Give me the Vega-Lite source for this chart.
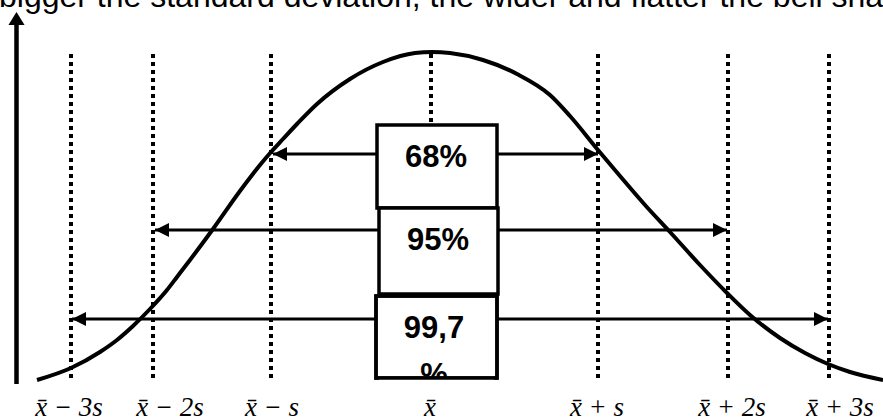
{
  "$schema": "https://vega.github.io/schema/vega-lite/v6.json",
  "width": 883,
  "height": 419,
  "autosize": "none",
  "padding": 0,
  "background": "white",
  "config": {"view": {"stroke": null}},
  "encoding": {
    "x": {"field": "x", "type": "quantitative", "axis": null, "scale": {"domain": [0, 883], "nice": false, "zero": false}},
    "y": {"field": "y", "type": "quantitative", "axis": null, "scale": {"domain": [0, 419], "nice": false, "zero": false, "reverse": true}}
  },
  "layer": [
    {
      "data": {"values": [
        {"x": 37, "y": 380}, {"x": 71, "y": 368}, {"x": 100, "y": 352}, {"x": 117, "y": 340},
        {"x": 133, "y": 326}, {"x": 150, "y": 309}, {"x": 167, "y": 290}, {"x": 177, "y": 277},
        {"x": 190, "y": 260}, {"x": 213, "y": 229}, {"x": 240, "y": 191}, {"x": 260, "y": 165},
        {"x": 271, "y": 152}, {"x": 283, "y": 139}, {"x": 297, "y": 124}, {"x": 317, "y": 104},
        {"x": 350, "y": 79}, {"x": 383, "y": 62}, {"x": 415, "y": 53}, {"x": 432, "y": 52},
        {"x": 450, "y": 53}, {"x": 483, "y": 60}, {"x": 517, "y": 74}, {"x": 550, "y": 95},
        {"x": 570, "y": 116}, {"x": 598, "y": 150}, {"x": 620, "y": 176}, {"x": 645, "y": 205},
        {"x": 670, "y": 232}, {"x": 700, "y": 265}, {"x": 727, "y": 293}, {"x": 750, "y": 315},
        {"x": 780, "y": 338}, {"x": 805, "y": 353}, {"x": 828, "y": 364}, {"x": 850, "y": 372},
        {"x": 883, "y": 380}
      ]},
      "mark": {"type": "line", "interpolate": "monotone", "color": "black", "strokeWidth": 4}
    },
    {
      "data": {"values": [
        {"x": 71, "y": 54, "y2": 380}, {"x": 153, "y": 54, "y2": 380}, {"x": 271, "y": 54, "y2": 380},
        {"x": 431, "y": 54, "y2": 380}, {"x": 598, "y": 54, "y2": 380}, {"x": 728, "y": 54, "y2": 380},
        {"x": 829, "y": 54, "y2": 380}
      ]},
      "mark": {"type": "rule", "color": "black", "strokeWidth": 4, "strokeDash": [4, 4]},
      "encoding": {"y2": {"field": "y2"}}
    },
    {
      "data": {"values": [
        {"y": 154, "x": 273, "x2": 598}, {"y": 230, "x": 155, "x2": 727}, {"y": 319, "x": 72, "x2": 828}
      ]},
      "mark": {"type": "rule", "color": "black", "strokeWidth": 3},
      "encoding": {"x2": {"field": "x2"}}
    },
    {
      "data": {"values": [{"x": 16.5, "y": 24, "y2": 384}]},
      "mark": {"type": "rule", "color": "black", "strokeWidth": 4.5},
      "encoding": {"y2": {"field": "y2"}}
    },
    {
      "data": {"values": [
        {"x": 273, "y": 154, "dir": "left"}, {"x": 598, "y": 154, "dir": "right"},
        {"x": 155, "y": 230, "dir": "left"}, {"x": 727, "y": 230, "dir": "right"},
        {"x": 72, "y": 319, "dir": "left"}, {"x": 828, "y": 319, "dir": "right"},
        {"x": 16.5, "y": 12, "dir": "up"}
      ]},
      "mark": {"type": "point", "filled": true, "color": "black", "opacity": 1, "size": 196, "strokeWidth": 0},
      "encoding": {
        "shape": {"field": "dir", "type": "nominal", "legend": null,
          "scale": {"domain": ["left", "right", "up"], "range": ["M0,0L2,-1L2,1Z", "M0,0L-2,-1L-2,1Z", "M0,0L-1.15,1.86L1.15,1.86Z"]}}
      }
    },
    {
      "data": {"values": [
        {"x": 377, "x2": 497, "y": 125, "y2": 208},
        {"x": 379, "x2": 498, "y": 208, "y2": 294},
        {"x": 376, "x2": 497, "y": 296, "y2": 378}
      ]},
      "mark": {"type": "rect", "fill": "white", "stroke": "black", "strokeWidth": 3.5},
      "encoding": {"x2": {"field": "x2"}, "y2": {"field": "y2"}}
    },
    {
      "data": {"values": [
        {"x": 436, "y": 167, "label": "68%"},
        {"x": 438, "y": 250, "label": "95%"},
        {"x": 434, "y": 338, "label": "99,7"},
        {"x": 434, "y": 385, "label": "%"}
      ]},
      "mark": {"type": "text", "font": "Liberation Sans", "fontWeight": "bold", "fontSize": 31, "align": "center", "baseline": "alphabetic", "color": "black"},
      "encoding": {"text": {"field": "label"}}
    },
    {
      "data": {"values": [{"x": 379, "x2": 494, "y": 379, "y2": 392}]},
      "mark": {"type": "rect", "fill": "white", "strokeWidth": 0},
      "encoding": {"x2": {"field": "x2"}, "y2": {"field": "y2"}}
    },
    {
      "data": {"values": [{"x": 376, "x2": 497, "y": 296, "y2": 378}]},
      "mark": {"type": "rect", "fill": "transparent", "stroke": "black", "strokeWidth": 3.5},
      "encoding": {"x2": {"field": "x2"}, "y2": {"field": "y2"}}
    },
    {
      "data": {"values": [
        {"x": 69, "y": 416, "label": "x\u0304 \u2212 3s"},
        {"x": 170, "y": 416, "label": "x\u0304 \u2212 2s"},
        {"x": 272, "y": 416, "label": "x\u0304 \u2212 s"},
        {"x": 430, "y": 416, "label": "x\u0304"},
        {"x": 597, "y": 416, "label": "x\u0304 + s"},
        {"x": 732, "y": 416, "label": "x\u0304 + 2s"},
        {"x": 840, "y": 416, "label": "x\u0304 + 3s"}
      ]},
      "mark": {"type": "text", "font": "Liberation Serif", "fontStyle": "italic", "fontSize": 27, "align": "center", "baseline": "alphabetic", "color": "black"},
      "encoding": {"text": {"field": "label"}}
    },
    {
      "data": {"values": [{"x": -1, "y": 7, "label": "bigger the standard deviation, the wider and flatter the bell shape."}]},
      "mark": {"type": "text", "font": "Liberation Sans", "fontSize": 32, "align": "left", "baseline": "alphabetic", "color": "black"},
      "encoding": {"text": {"field": "label"}}
    }
  ]
}
